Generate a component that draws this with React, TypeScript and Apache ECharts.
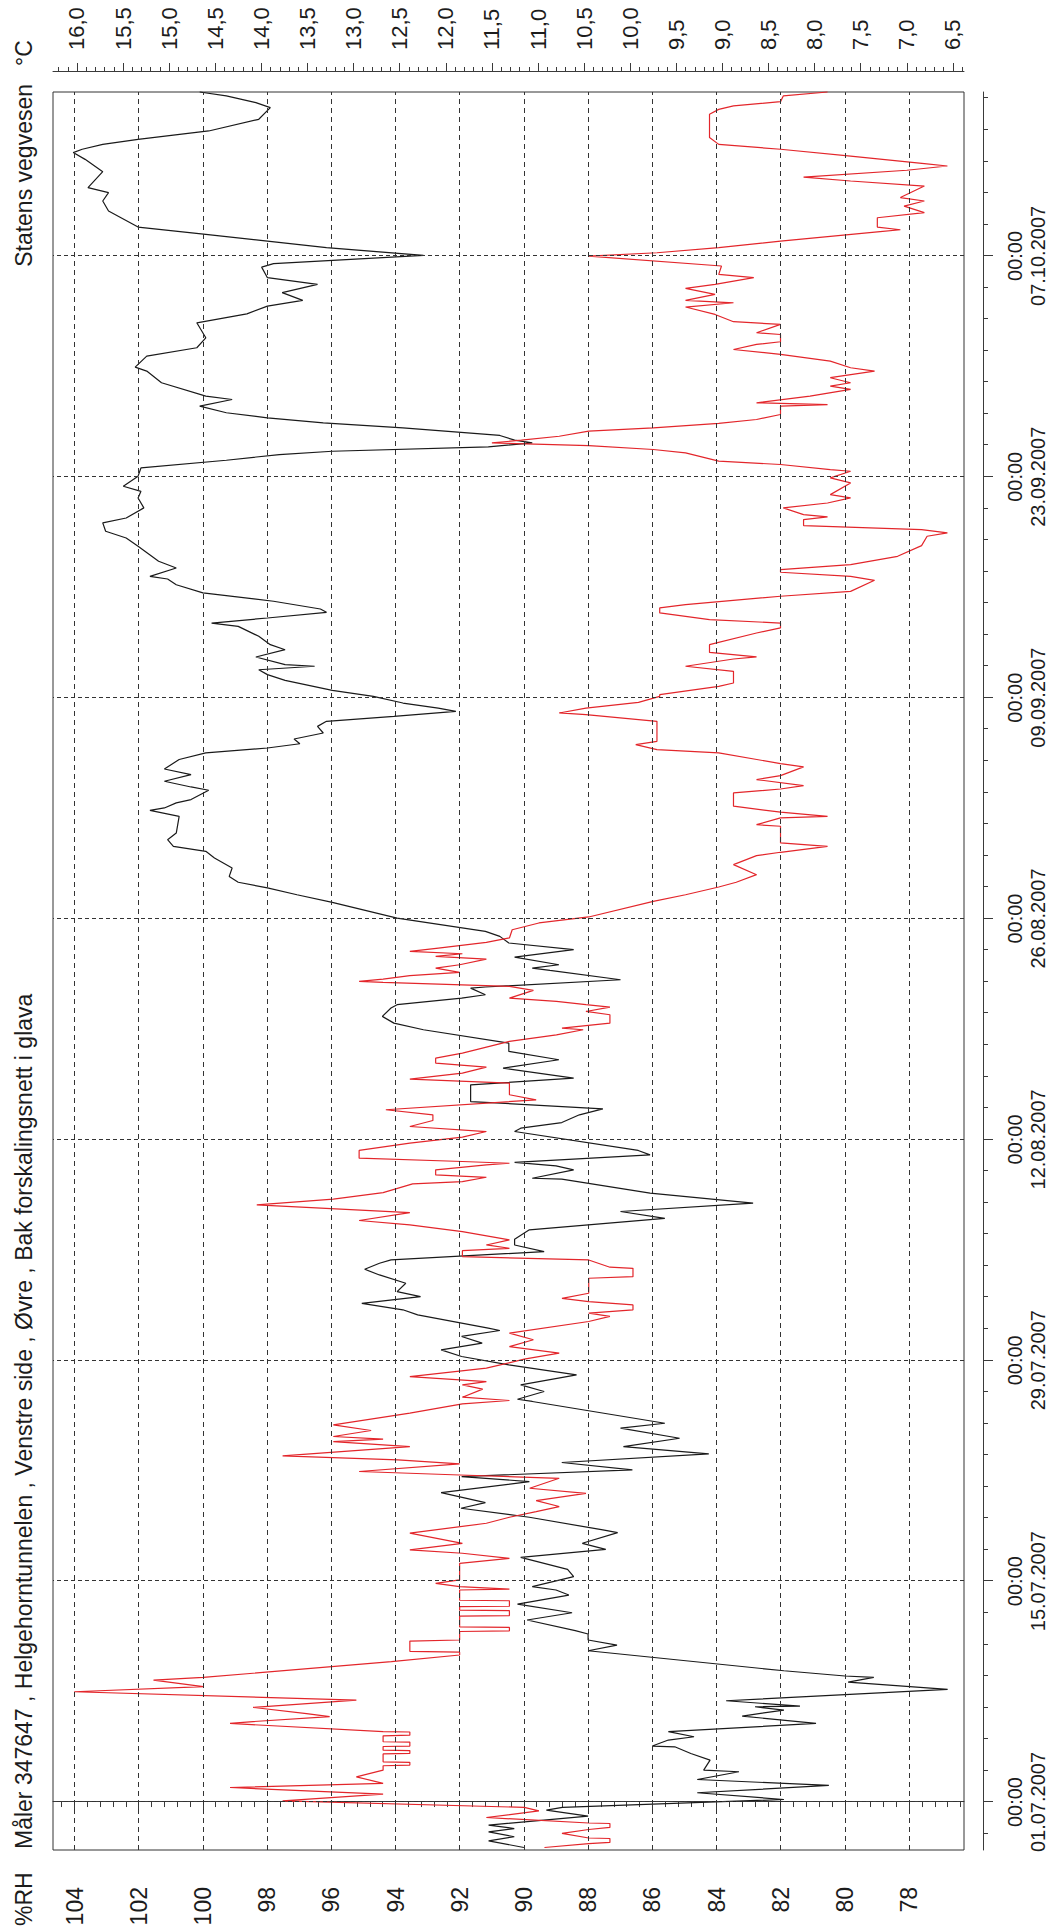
import React, { useEffect, useRef } from 'react';
import * as echarts from 'echarts';

// ---- data (time in days since 01.07.2007 00:00) ----
const DATE_TICKS = [0, 14, 28, 42, 56, 70, 84, 98];
const DATE_LABELS = ['01.07.2007', '15.07.2007', '29.07.2007', '12.08.2007', '26.08.2007', '09.09.2007', '23.09.2007', '07.10.2007'];
const RH_TICKS = [78, 80, 82, 84, 86, 88, 90, 92, 94, 96, 98, 100, 102, 104];
const TEMP_TICKS = [6.5, 7.0, 7.5, 8.0, 8.5, 9.0, 9.5, 10.0, 10.5, 11.0, 11.5, 12.0, 12.5, 13.0, 13.5, 14.0, 14.5, 15.0, 15.5, 16.0];

const TITLE = 'Måler 347647 , Helgehorntunnelen , Venstre side , Øvre , Bak forskalingsnett i glava';
const ORG = 'Statens vegvesen';

// relative humidity (%RH), black
const RH_SERIES: [number, number][] = [
  [-2.88, 90.0], [-2.46, 91.1], [-2.2, 90.3], [-1.89, 91.1], [-1.68, 90.3], [-1.46, 91.1], [-0.89, 88.0], [-0.51, 89.3], [-0.34, 88.8],
  [0.16, 81.9], [0.59, 84.6], [1.05, 80.5], [1.43, 84.6], [1.92, 83.3], [2.02, 84.4], [2.66, 84.2], [3.08, 84.8], [3.5, 85.3], [3.55, 86.0],
  [3.93, 85.5], [4.14, 84.7], [4.46, 85.5], [4.98, 80.9], [5.45, 83.2], [5.83, 81.9], [6.04, 82.8], [6.08, 81.4], [6.42, 83.7], [7.14, 76.8],
  [7.6, 79.9], [7.9, 79.1], [7.99, 80.0], [8.32, 81.9], [9.59, 88.0], [9.95, 87.1], [10.27, 88.0], [10.65, 88.0], [10.86, 88.4], [11.54, 89.9],
  [12.0, 88.5], [12.55, 90.2], [13.12, 88.6], [13.44, 89.0],
  [13.65, 89.74], [14.29, 88.45], [14.75, 88.64], [15.51, 90.1], [16.02, 87.45], [16.4, 88.18], [17.08, 87.08], [17.25, 87.54], [18.05, 89.83],
  [18.62, 91.96], [18.98, 91.2], [19.61, 92.58], [20.31, 89.83], [20.63, 91.94], [21.05, 86.62], [21.52, 88.82], [22.07, 84.24], [22.53, 86.9],
  [23.06, 85.15], [23.7, 86.99], [24.01, 85.61], [25.39, 89.74], [25.53, 90.2], [26.02, 89.37], [26.44, 90.1], [27.08, 88.36], [27.71, 90.47],
  [28.24, 91.94], [28.66, 92.58], [29.09, 91.3], [29.51, 91.94], [29.89, 90.75], [30.04, 91.11], [30.88, 93.31], [31.2, 93.77],
  [31.61, 95.05], [32.04, 93.22], [32.35, 93.95], [32.88, 93.68], [33.41, 94.5], [33.77, 94.96], [34.15, 94.5], [34.36, 94.14], [34.89, 89.37],
  [35.31, 90.29], [35.67, 90.29], [36.27, 89.83], [37.0, 85.61], [37.43, 86.99], [37.96, 82.86], [38.59, 86.07], [39.48, 88.82], [39.54, 89.74],
  [40.07, 88.45], [40.32, 89.0], [40.54, 90.29], [41.02, 86.07], [41.3, 86.44], [42.5, 90.29], [42.71, 90.1], [43.07, 88.82], [43.56, 88.27],
  [43.94, 87.54], [44.4, 91.66], [45.46, 91.66], [45.88, 88.45], [46.52, 90.65], [47.05, 88.91], [47.58, 90.47], [48.1, 90.47], [48.95, 93.13],
  [49.37, 94.05], [49.8, 94.41], [50.33, 94.14], [50.54, 93.95], [50.96, 91.94], [51.17, 91.2], [51.59, 91.66], [51.66, 91.2], [52.12, 86.99],
  [52.71, 89.19], [52.86, 89.74], [53.07, 88.91], [53.56, 90.29], [54.03, 88.45], [54.45, 90.47], [54.87, 90.75], [55.19, 91.2], [56.03, 93.95],
  [57.03, 95.97], [57.51, 97.07], [57.94, 97.99], [58.3, 98.9], [58.67, 99.18], [59.2, 99.09], [59.84, 99.64], [60.26, 99.91], [60.58, 100.92],
  [61.0, 101.1], [61.42, 100.83], [62.48, 100.74], [62.86, 101.65], [63.01, 101.2], [63.33, 100.83], [63.54, 100.37], [64.13, 99.82],
  [64.34, 100.37], [64.7, 101.2], [65.12, 100.37], [65.48, 101.2], [66.08, 100.74], [66.5, 99.91],
  [66.81, 97.99], [67.08, 96.98], [67.38, 97.16], [67.76, 96.25], [68.18, 96.43], [68.5, 96.15], [68.81, 94.05], [69.13, 92.12], [69.34, 92.67],
  [69.66, 93.77], [70.08, 94.69], [70.46, 95.97], [71.1, 97.44], [71.46, 97.99], [71.77, 98.26], [71.99, 96.52], [72.09, 97.44], [72.58, 98.35],
  [73.04, 97.44], [73.36, 97.9], [73.89, 98.26], [74.52, 98.9], [74.73, 99.73], [75.05, 97.99], [75.41, 96.15], [75.62, 96.34], [76.11, 97.8],
  [76.64, 100.0], [77.16, 100.83], [77.52, 101.1], [77.69, 101.65], [78.22, 100.83], [78.65, 101.38], [79.6, 102.02], [80.12, 102.39],
  [80.55, 103.03], [81.08, 103.12], [81.39, 102.39], [82.03, 101.84], [82.66, 102.02], [83.08, 101.93], [83.4, 102.48], [84.04, 102.02],
  [84.56, 101.93], [85.05, 99.27], [85.41, 97.62], [85.62, 95.97], [85.9, 91.11], [86.15, 89.74], [86.32, 90.29], [86.62, 90.75], [87.1, 93.77],
  [87.42, 96.25], [87.74, 97.99], [88.06, 99.27], [88.48, 100.1], [88.9, 99.09], [89.11, 99.91], [89.96, 101.29], [90.7, 101.75], [90.95, 102.11],
  [91.65, 101.75], [92.18, 100.19], [92.81, 99.91], [93.76, 100.19], [94.33, 98.63], [94.82, 97.99], [95.18, 96.89], [95.67, 97.53], [96.2, 96.43],
  [96.62, 97.99], [97.29, 98.17], [97.51, 97.8], [98.03, 93.13], [98.52, 96.15], [98.94, 97.99], [99.37, 99.91], [99.83, 102.02], [100.85, 102.94],
  [101.48, 103.12], [102.01, 102.94], [102.33, 103.58], [103.34, 103.12], [104.12, 103.67], [104.55, 104.04], [104.76, 103.76], [105.07, 103.12],
  [105.39, 102.02], [105.92, 99.82], [106.66, 98.26], [107.4, 97.9], [107.72, 98.35], [108.14, 99.27], [108.39, 100.1],
];

// temperature (°C), red
const TEMP_SERIES: [number, number][] = [
  [-2.88, 10.93], [-2.63, 10.45], [-2.56, 10.22], [-2.31, 10.22], [-2.28, 10.45], [-1.99, 10.74], [-1.74, 10.45], [-1.61, 10.22], [-1.36, 10.22],
  [-1.33, 10.45], [-0.98, 11.56], [-0.56, 10.99], [-0.34, 11.15], [0.08, 13.77], [0.5, 12.68], [0.92, 14.34], [1.18, 12.68], [1.6, 12.97],
  [2.02, 12.68], [2.3, 12.68], [2.34, 12.39], [2.52, 12.39], [2.55, 12.68], [3.05, 12.68], [3.08, 12.39], [3.26, 12.39], [3.29, 12.68],
  [3.52, 12.68], [3.55, 12.39], [3.8, 12.39], [3.82, 12.68], [4.2, 12.68], [4.24, 12.39], [4.44, 12.39], [4.46, 12.68], [4.98, 14.34],
  [5.1, 14.09], [5.41, 13.26], [5.6, 13.51], [6.0, 14.09], [6.46, 12.97], [6.99, 16.03], [7.31, 14.63], [7.73, 15.17], [7.9, 14.63],
  [8.9, 12.59], [9.32, 11.85], [9.5, 11.85], [9.55, 12.39], [10.2, 12.39], [10.27, 11.85], [10.81, 11.85], [10.85, 11.31], [11.07, 11.31],
  [11.1, 11.85], [11.79, 11.85], [11.82, 11.31], [12.13, 11.31], [12.16, 11.85], [12.38, 11.85], [12.41, 11.31], [12.76, 11.31], [12.79, 11.85],
  [13.44, 11.85], [13.5, 11.31], [13.65, 11.85], [13.86, 12.11], [14.08, 11.85], [15.13, 11.85], [15.45, 11.31], [15.77, 11.82], [15.98, 12.39],
  [16.4, 11.82], [17.04, 12.39], [17.67, 11.56], [18.05, 11.31], [18.41, 11.02], [18.73, 10.77], [19.11, 11.02], [19.57, 10.48], [19.89, 11.09],
  [20.52, 10.77], [20.73, 11.85], [20.95, 12.94], [21.43, 11.85], [21.69, 12.52], [21.94, 13.77], [22.53, 12.39], [22.85, 13.22], [23.0, 12.68],
  [23.17, 13.22], [23.55, 12.81], [23.91, 13.22], [24.65, 12.39], [25.24, 11.82], [25.45, 11.31], [25.66, 11.82], [26.17, 11.6], [26.44, 11.82],
  [26.65, 11.56], [26.97, 12.39], [27.5, 11.56], [28.07, 11.15], [28.45, 10.77], [28.87, 11.31], [29.3, 11.05], [29.72, 11.31], [30.46, 10.45],
  [30.78, 10.22], [30.99, 10.45], [31.2, 9.97], [31.51, 9.97], [31.72, 10.45], [31.93, 10.74], [32.25, 10.45], [33.2, 10.45], [33.3, 9.97],
  [33.83, 9.97], [33.9, 10.22], [34.36, 10.45], [34.57, 11.82], [34.95, 11.82], [35.1, 11.31], [35.31, 11.56], [35.63, 11.31], [36.16, 11.82],
  [36.58, 12.39], [36.86, 12.94], [37.36, 12.39], [37.85, 14.05], [38.21, 13.22], [38.63, 12.68], [39.18, 12.36], [39.33, 11.82], [39.6, 11.56],
  [39.75, 12.11], [40.07, 12.11], [40.39, 11.56], [40.49, 11.31], [40.6, 11.82], [40.81, 12.94], [41.3, 12.94], [41.76, 12.39], [42.14, 11.82],
  [42.5, 11.56], [42.82, 12.39], [43.2, 12.14], [43.56, 12.14], [43.88, 12.65], [44.51, 11.02], [44.83, 11.31], [45.57, 11.31], [45.82, 12.39],
  [46.2, 11.82], [46.58, 11.56], [46.84, 12.11], [47.15, 12.11], [47.47, 11.82], [48.21, 11.31], [48.63, 10.8], [48.95, 10.51], [49.05, 10.74],
  [49.37, 10.22], [49.9, 10.22], [50.11, 10.48], [50.39, 10.22], [50.54, 10.48], [50.75, 10.8], [50.96, 11.31], [51.45, 11.05], [51.7, 11.31],
  [51.95, 12.68], [52.02, 12.94], [52.16, 12.68], [52.38, 12.39], [52.59, 11.85], [52.86, 12.11], [53.07, 11.85], [53.43, 11.56], [53.6, 12.11],
  [53.77, 11.82], [53.92, 12.39], [54.13, 12.08], [54.49, 11.56], [54.77, 11.31], [55.29, 11.28], [55.72, 10.99], [56.1, 10.45], [57.09, 9.75],
  [57.51, 9.4], [58.0, 9.04], [58.3, 8.85], [58.78, 8.63], [59.42, 8.88], [59.99, 8.63], [60.2, 8.37], [60.58, 7.86], [60.79, 8.37], [61.85, 8.37],
  [61.95, 8.63], [62.38, 8.37], [62.48, 7.86], [62.74, 8.37], [63.12, 8.88], [63.96, 8.88], [64.21, 8.37], [64.43, 8.12], [64.81, 8.63],
  [65.06, 8.37], [65.61, 8.12], [65.82, 8.37], [66.5, 9.04], [66.71, 9.71], [67.02, 9.94], [67.23, 9.71], [68.5, 9.71], [68.92, 10.48],
  [69.03, 10.77], [69.34, 10.48], [69.7, 9.91], [70.08, 9.68], [70.19, 9.68], [70.72, 9.04], [70.93, 8.88], [71.67, 8.88], [71.99, 9.4],
  [72.45, 8.88], [72.58, 8.63], [72.87, 9.14], [73.36, 9.14], [74.1, 8.63], [74.42, 8.37], [74.73, 8.37], [74.95, 9.14], [75.37, 9.68],
  [75.69, 9.68], [75.9, 9.4], [76.43, 8.37], [76.74, 7.61], [77.44, 7.35], [77.69, 7.61], [77.95, 8.37], [78.12, 8.37], [78.43, 7.61],
  [78.96, 7.1], [79.64, 6.84], [80.23, 6.78], [80.44, 6.56], [80.65, 6.84], [80.91, 8.12], [81.29, 8.12], [81.46, 7.86], [81.6, 8.12],
  [82.03, 8.34], [82.34, 7.86], [82.66, 7.61], [82.87, 7.83], [83.61, 7.61], [83.93, 7.83], [84.35, 7.61], [84.46, 7.83], [84.78, 8.37],
  [84.99, 9.04], [85.52, 9.4], [85.73, 9.75], [85.98, 10.45], [86.15, 11.5], [86.32, 11.18], [86.57, 10.77], [86.89, 10.45], [87.1, 9.75],
  [87.38, 9.04], [87.63, 8.63], [87.95, 8.37], [88.48, 8.37], [88.58, 7.86], [88.69, 8.63], [89.11, 8.05], [89.54, 7.61], [89.75, 7.83],
  [89.96, 7.61], [90.28, 7.83], [90.7, 7.35], [90.91, 7.61], [91.33, 7.83], [91.76, 8.37], [92.07, 8.88], [92.39, 8.63], [92.56, 8.37],
  [93.02, 8.37], [93.13, 8.63], [93.66, 8.37], [93.83, 8.88], [94.29, 9.08], [94.76, 9.4], [95.03, 8.88], [95.18, 9.4], [95.56, 9.08],
  [95.94, 9.4], [96.2, 9.08], [96.62, 8.66], [96.83, 9.04], [97.36, 9.01], [97.99, 10.45], [98.2, 9.71], [98.52, 9.04], [98.94, 8.37],
  [99.54, 7.29], [99.66, 7.07], [99.83, 7.32], [100.42, 7.32], [100.74, 6.81], [101.16, 7.03], [101.48, 6.81], [101.7, 7.07], [102.43, 6.81],
  [102.75, 7.61], [103.0, 8.12], [103.43, 7.0], [103.7, 6.56], [103.85, 6.81], [104.33, 7.61], [104.76, 8.37], [105.07, 9.04], [105.5, 9.14],
  [106.98, 9.14], [107.29, 9.04], [107.51, 8.88], [107.78, 8.37], [108.14, 8.34], [108.39, 7.86],
];

// axis extents
const DAY_MIN = -3.04;
const DAY_MAX = 108.39;
const RH_MIN = 76.29;
const RH_MAX = 104.67;
const T_MIN = 6.38;
const T_MAX = 16.26;

const DAY_MINOR = Array.from({ length: 56 }, (_, i) => -2 + 2 * i);
const RH_MINOR = Array.from({ length: 71 }, (_, i) => Math.round((76.4 + 0.4 * i) * 10) / 10);
const T_MINOR = Array.from({ length: 99 }, (_, i) => Math.round((6.4 + 0.1 * i) * 10) / 10);

const FONT = '"Liberation Sans", Arial, Helvetica, sans-serif';
const INK = '#1c1c1c';
const AXIS = '#3a3a3a';

const W = 1932;
const H = 1063;

function buildOption(): any {
  const axisLine = { show: true, lineStyle: { color: AXIS, width: 1 } };
  return {
    animation: false,
    backgroundColor: '#ffffff',
    textStyle: { fontFamily: FONT },
    grid: { left: 82, right: 92, top: 53, bottom: 99, show: true, borderColor: '#333', borderWidth: 1, backgroundColor: 'transparent' },
    title: [
      { text: TITLE, left: 83, top: 12, padding: 0, textStyle: { fontFamily: FONT, fontSize: 23, fontWeight: 'normal', color: INK } },
      { text: ORG, right: 84, top: 12, padding: 0, textStyle: { fontFamily: FONT, fontSize: 23, fontWeight: 'normal', color: INK } },
    ],
    graphic: [
      { type: 'text', left: 6, top: 12, style: { text: '%RH', fontFamily: FONT, fontSize: 23, fill: INK } },
      { type: 'text', left: 1866, top: 12, style: { text: '°C', fontFamily: FONT, fontSize: 23, fill: INK } },
    ],
    xAxis: [
      {
        type: 'value', min: DAY_MIN, max: DAY_MAX, position: 'bottom', offset: 19,
        axisLine,
        axisTick: { show: true, customValues: DATE_TICKS, length: 10, lineStyle: { color: AXIS } },
        axisLabel: {
          show: true, customValues: DATE_TICKS, margin: 20, fontSize: 20, lineHeight: 23, color: INK, fontFamily: FONT,
          formatter: (v: number) => {
            const i = DATE_TICKS.indexOf(Math.round(v));
            return '00:00\n' + (i >= 0 ? DATE_LABELS[i] : '');
          },
        },
        splitLine: { show: false },
      },
      {
        type: 'value', min: DAY_MIN, max: DAY_MAX, position: 'bottom', offset: 19,
        axisLine: { show: false },
        axisTick: { show: true, customValues: DAY_MINOR, length: 5, lineStyle: { color: AXIS } },
        axisLabel: { show: false },
        splitLine: { show: false },
      },
    ],
    yAxis: [
      {
        type: 'value', min: RH_MIN, max: RH_MAX, position: 'left', offset: 21,
        axisLine,
        axisTick: { show: true, customValues: RH_TICKS, length: 9, lineStyle: { color: AXIS } },
        axisLabel: { show: true, customValues: RH_TICKS, margin: 16, fontSize: 23, color: INK, fontFamily: FONT },
        splitLine: { show: false },
      },
      {
        type: 'value', min: RH_MIN, max: RH_MAX, position: 'left', offset: 21,
        axisLine: { show: false },
        axisTick: { show: true, customValues: RH_MINOR, length: 5, lineStyle: { color: AXIS } },
        axisLabel: { show: false },
        splitLine: { show: false },
      },
      {
        type: 'value', min: T_MIN, max: T_MAX, position: 'right', offset: 20,
        axisLine,
        axisTick: { show: true, customValues: TEMP_TICKS, length: 9, lineStyle: { color: AXIS } },
        axisLabel: {
          show: true, customValues: TEMP_TICKS, margin: 22, fontSize: 22, color: INK, fontFamily: FONT,
          formatter: (v: number) => v.toFixed(1).replace('.', ','),
        },
        splitLine: { show: false },
      },
      {
        type: 'value', min: T_MIN, max: T_MAX, position: 'right', offset: 20,
        axisLine: { show: false },
        axisTick: { show: true, customValues: T_MINOR, length: 5, lineStyle: { color: AXIS } },
        axisLabel: { show: false },
        splitLine: { show: false },
      },
    ],
    series: [
      {
        type: 'line', name: '%RH', xAxisIndex: 0, yAxisIndex: 0, data: RH_SERIES,
        showSymbol: false, symbol: 'none', lineStyle: { color: '#1a1a1a', width: 1.2 }, z: 3,
        markLine: {
          silent: true, symbol: ['none', 'none'], label: { show: false },
          lineStyle: { color: '#333', width: 1, type: [5, 4] },
          data: RH_TICKS.map((v) => ({ yAxis: v })),
        },
      },
      {
        type: 'line', name: '°C', xAxisIndex: 0, yAxisIndex: 2, data: TEMP_SERIES,
        showSymbol: false, symbol: 'none', lineStyle: { color: '#e3262b', width: 1.2 }, z: 4,
        markLine: {
          silent: true, symbol: ['none', 'none'], label: { show: false },
          lineStyle: { color: '#333', width: 1.2, type: [4, 3] },
          data: DATE_TICKS.map((d) => ({ xAxis: d })),
        },
      },
    ],
  };
}

export default function App() {
  const ref = useRef<HTMLDivElement | null>(null);
  useEffect(() => {
    const el = ref.current;
    if (!el) return;
    const chart = echarts.init(el, null, { renderer: 'svg', width: W, height: H });
    chart.setOption(buildOption());
    return () => chart.dispose();
  }, []);
  return (
    <div style={{ position: 'absolute', left: 0, top: 0, width: H, height: W, overflow: 'hidden', background: '#fff' }}>
      <div
        ref={ref}
        style={{
          position: 'absolute', left: 0, top: 0, width: W, height: H,
          transformOrigin: '0 0', transform: `translateY(${W}px) rotate(-90deg)`,
        }}
      />
    </div>
  );
}
